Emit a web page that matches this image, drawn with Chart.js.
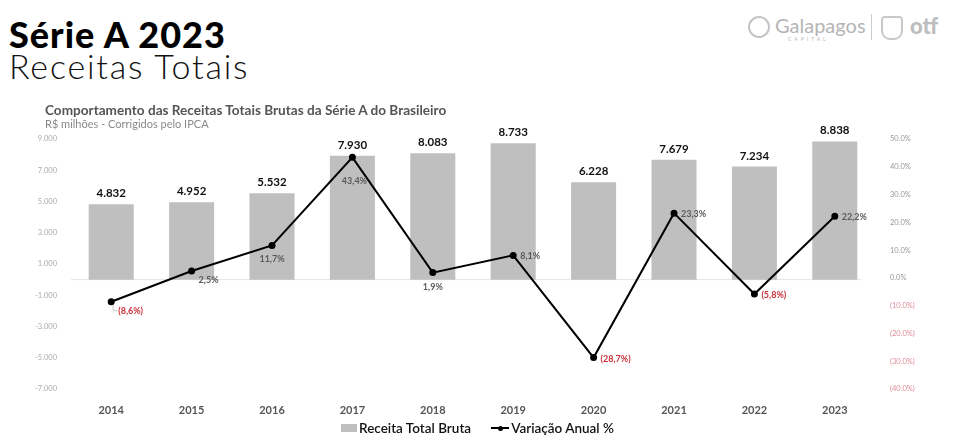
<!DOCTYPE html>
<html>
<head>
<meta charset="utf-8">
<script src="https://cdn.jsdelivr.net/npm/chart.js@4/dist/chart.umd.min.js"></script>
<style>
  body { margin: 0; background: #fff; font-family: Lato, "Open Sans", sans-serif; }
  #page { position: relative; width: 960px; height: 443px; overflow: hidden; }
  .t1 { position: absolute; left: 9px; top: 14px; font-size: 36px; font-weight: 900; color: #000; letter-spacing: 1px; line-height: 40px; }
  .t2 { position: absolute; left: 9px; top: 46px; font-size: 34px; font-weight: 300; color: #111; letter-spacing: 1.8px; line-height: 40px; }
  .st { position: absolute; left: 45px; top: 102px; font-size: 13.6px; font-weight: 700; color: #555; }
  .sst { position: absolute; left: 45px; top: 117px; font-size: 11px; color: #8a8a8a; }
  #wrap { position: absolute; left: 0; top: 100px; width: 960px; height: 343px; }
  .legend { position: absolute; top: 420px; left: 341px; font-size: 13.5px; font-weight: 600; color: #111; display: flex; align-items: center; }
  .sw { display: inline-block; width: 16px; height: 8px; background: #bfbfbf; margin-right: 2px; }
  .ln { display: inline-block; position: relative; width: 18px; height: 2px; background: #000; margin-left: 20px; margin-right: 2px; }
  .ln::after { content: ""; position: absolute; left: 7px; top: -1.5px; width: 5px; height: 5px; border-radius: 3px; background: #000; }
  .logo { position: absolute; top: 14px; left: 748px; color: #b5b5b5; font-family: Lato, sans-serif; }
</style>
</head>
<body>
<div id="page">
  <div id="wrap"><canvas id="chart"></canvas></div>
  <div class="t1">Série A 2023</div>
  <div class="t2">Receitas Totais</div>
  <div class="st">Comportamento das Receitas Totais Brutas da Série A do Brasileiro</div>
  <div class="sst">R$ milhões - Corrigidos pelo IPCA</div>
  <div class="logo">
    <span style="position:absolute;left:0;top:2px;width:18px;height:18px;border:2px solid #c4c4c4;border-radius:50%;"></span>
    <span style="position:absolute;left:27px;top:-1px;font-size:20px;">Galapagos</span>
    <span style="position:absolute;left:40px;top:22px;font-size:5px;letter-spacing:3px;">CAPITAL</span>
    <span style="position:absolute;left:123px;top:0;width:1px;height:26px;background:#ccc;"></span>
    <span style="position:absolute;left:133px;top:2px;width:18px;height:20px;border:2px solid #c8c8c8;border-radius:4px 4px 9px 9px;"></span>
    <span style="position:absolute;left:162px;top:-2px;font-size:22px;font-weight:900;color:#bdbdbd;">otf</span>
  </div>
  <div class="legend"><span class="sw"></span>Receita Total Bruta<span class="ln"></span>Variação Anual %</div>
</div>
<script>
const years = ["2014", "2015", "2016", "2017", "2018", "2019", "2020", "2021", "2022", "2023"]
const receitas = [4832, 4952, 5532, 7930, 8083, 8733, 6228, 7679, 7234, 8838]
const variacao = [-8.6, 2.5, 11.7, 43.4, 1.9, 8.1, -28.7, 23.3, -5.8, 22.2]
// where each % label sits relative to its point
const labelSpot = ["br", "br", "b", "bb", "b", "r", "r", "r", "r", "r"]

const fmtThousands = v => {
    const s = Math.abs(v).toString().replace(/\B(?=(\d{3})+(?!\d))/g, ".")
    return (v < 0 ? "-" : "") + s
}
const fmtPct = v => {
    const s = Math.abs(v).toFixed(1).replace(".", ",") + "%"
    return v < 0 ? "(" + s + ")" : s
}

const labelsPlugin = {
    id: "labels",
    beforeDatasetsDraw(chart) {
        // zero line
        const ctx = chart.ctx
        const y0 = chart.scales.y.getPixelForValue(0)
        ctx.save()
        ctx.strokeStyle = "#e3e3e3"
        ctx.lineWidth = 1
        ctx.beginPath()
        ctx.moveTo(chart.chartArea.left, y0)
        ctx.lineTo(chart.chartArea.right - 14, y0)
        ctx.stroke()
        ctx.restore()
    },
    afterDatasetsDraw(chart) {
        const ctx = chart.ctx
        ctx.save()
        // bar values
        const bars = chart.getDatasetMeta(0).data
        ctx.font = "bold 11.5px Lato, sans-serif"
        ctx.fillStyle = "#111"
        ctx.textAlign = "center"
        ctx.textBaseline = "bottom"
        bars.forEach((b, i) => ctx.fillText(fmtThousands(receitas[i]), b.x, b.y - 5))
        // line values
        const pts = chart.getDatasetMeta(1).data
        ctx.font = "bold 9px Lato, sans-serif"
        ctx.textBaseline = "middle"
        pts.forEach((p, i) => {
            const v = variacao[i]
            ctx.fillStyle = v < 0 ? "#c9303a" : "#5a5a5a"
            const spot = labelSpot[i]
            if (spot === "br") {
                ctx.textAlign = "left"
                ctx.fillText(fmtPct(v), p.x + 7, p.y + 9)
            } else if (spot === "b") {
                ctx.textAlign = "center"
                ctx.fillText(fmtPct(v), p.x, p.y + 14)
            } else if (spot === "bb") {
                ctx.textAlign = "center"
                ctx.fillText(fmtPct(v), p.x + 2, p.y + 24)
            } else {
                ctx.textAlign = "left"
                ctx.fillText(fmtPct(v), p.x + 7, p.y + 1)
            }
        })
        // small leader for the first label
        const p0 = pts[0]
        ctx.strokeStyle = "#bbb"
        ctx.lineWidth = 0.8
        ctx.beginPath()
        ctx.moveTo(p0.x + 2, p0.y + 3)
        ctx.lineTo(p0.x + 2, p0.y + 9)
        ctx.lineTo(p0.x + 6, p0.y + 9)
        ctx.stroke()
        ctx.restore()
    }
}

new Chart(document.getElementById("chart"), {
    data: {
        labels: years,
        datasets: [
            {
                type: "bar",
                label: "Receita Total Bruta",
                data: receitas,
                backgroundColor: "#bfbfbf",
                barPercentage: 0.56,
                categoryPercentage: 1,
                yAxisID: "y",
                order: 2
            },
            {
                type: "line",
                label: "Variação Anual %",
                data: variacao,
                borderColor: "#000",
                backgroundColor: "#000",
                borderWidth: 2,
                pointRadius: 2.5,
                pointBackgroundColor: "#000",
                tension: 0,
                yAxisID: "y2",
                order: 1
            }
        ]
    },
    options: {
        responsive: true,
        maintainAspectRatio: false,
        animation: false,
        layout: { padding: { top: 39, left: 0, right: 0, bottom: 0 } },
        plugins: {
            legend: { display: false },
            tooltip: { enabled: false }
        },
        scales: {
            x: {
                grid: { display: false },
                border: { display: false },
                ticks: {
                    color: "#555",
                    font: { family: "Lato", size: 11, weight: "bold" },
                    padding: 7
                },
                afterFit: s => { s.height = 54 }
            },
            y: {
                position: "left",
                min: -7000,
                max: 9000,
                grid: { display: false },
                border: { display: false },
                ticks: {
                    stepSize: 2000,
                    color: "#aaa",
                    font: { family: "Lato", size: 7.5 },
                    padding: 6,
                    callback: v => fmtThousands(v)
                },
                afterFit: s => { s.width = 71 }
            },
            y2: {
                position: "right",
                min: -40,
                max: 50,
                grid: { display: false },
                border: { display: false },
                ticks: {
                    stepSize: 10,
                    font: { family: "Lato", size: 7.5 },
                    padding: 7,
                    color: c => c.tick.value < 0 ? "#e08a9a" : "#999",
                    callback: v => v < 0 ? "(" + Math.abs(v).toFixed(1) + "%)" : v.toFixed(1) + "%"
                },
                afterFit: s => { s.width = 85 }
            }
        }
    },
    plugins: [labelsPlugin]
})
</script>
</body>
</html>
